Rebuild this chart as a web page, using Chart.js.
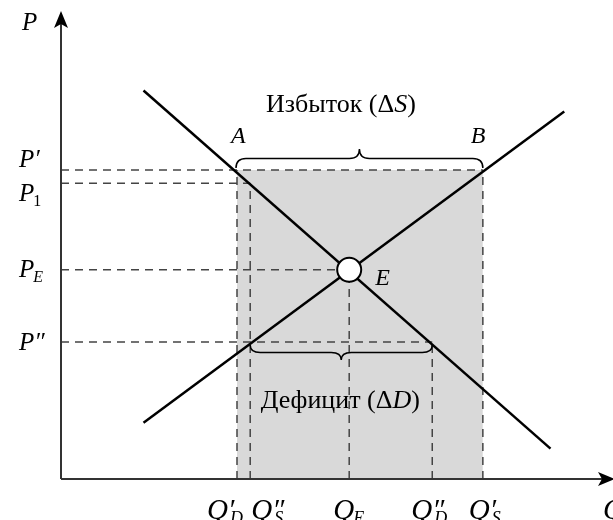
<!DOCTYPE html>
<html>
<head>
<meta charset="utf-8">
<script src="https://cdn.jsdelivr.net/npm/chart.js@4/dist/chart.umd.min.js"></script>
<style>
  body { margin: 0; background: #fff; }
  canvas { display: block; }
</style>
</head>
<body>
<canvas id="grafico" width="613" height="520"></canvas>
<script>
// quantities on the Q axis: Q'D, Q''S, QE, Q''D, Q'S
const qTicks = [32, 34.4, 52.4, 67.5, 76.7];
const qPrimes = ['′', '″', '', '″', '′'];
const qSubs = ['D', 'S', 'E', 'D', 'S'];
const qTops = [66, 63.2, 44.7, 29.3, 66];   // price where each vertical dashed line stops
// prices on the P axis: P', P1, PE, P''
const pTicks = [66, 63.2, 44.7, 29.3];
const pPrimes = ['′', '', '', '″'];
const pSubs = ['', '1', 'E', ''];
const pEnds = [76.7, 34.4, 52.4, 67.5];    // quantity where each horizontal dashed line stops
// demand and supply
const demandQ = [15, 89];
const demandP = [83, 6.5];
const supplyQ = [15, 91.5];
const supplyP = [12, 78.5];
const equilibrio = { q: 52.4, p: 44.7 };

const serif = "'Liberation Serif', 'DejaVu Serif', serif";

let datasets = [];
// grey area between Q'D and Q'S under P'
datasets.push({
  data: [{ x: qTicks[0], y: pTicks[0] }, { x: qTicks[4], y: pTicks[0] }],
  showLine: true, fill: 'origin', backgroundColor: '#d9d9d9',
  borderWidth: 0, pointRadius: 0, order: 10
});
pTicks.forEach((p, i) => {
  datasets.push({
    data: [{ x: 0, y: p }, { x: pEnds[i], y: p }],
    showLine: true, borderColor: '#444', borderWidth: 1.5, borderDash: [8, 6],
    pointRadius: 0, order: 5
  });
});
qTicks.forEach((q, i) => {
  datasets.push({
    data: [{ x: q, y: 0 }, { x: q, y: qTops[i] }],
    showLine: true, borderColor: '#444', borderWidth: 1.5, borderDash: [8, 6],
    pointRadius: 0, order: 5
  });
});
datasets.push({
  data: demandQ.map((q, i) => ({ x: q, y: demandP[i] })),
  showLine: true, borderColor: '#000', borderWidth: 2.5, pointRadius: 0, order: 2
});
datasets.push({
  data: supplyQ.map((q, i) => ({ x: q, y: supplyP[i] })),
  showLine: true, borderColor: '#000', borderWidth: 2.5, pointRadius: 0, order: 2
});
datasets.push({
  data: [{ x: equilibrio.q, y: equilibrio.p }],
  pointRadius: 12, pointBackgroundColor: '#fff', pointBorderColor: '#000',
  pointBorderWidth: 2, order: 0, clip: false
});

// draws letter + prime + subscript, left aligned
function etiqueta(ctx, x, y, main, prime, sub, size) {
  ctx.textAlign = 'left';
  ctx.textBaseline = 'alphabetic';
  ctx.font = 'italic ' + size + 'px ' + serif;
  ctx.fillText(main, x, y);
  let w = ctx.measureText(main).width;
  if (prime) {
    ctx.fillText(prime, x + w, y);
  }
  if (sub) {
    ctx.font = (/[0-9]/.test(sub) ? '' : 'italic ') + Math.round(size * 0.62) + 'px ' + serif;
    ctx.fillText(sub, x + w + (prime ? 2 : -1), y + 5);
  }
}

function llave(ctx, x1, x2, y0, h, r) {
  let ym = y0 + h / 2, yt = y0 + h, xm = (x1 + x2) / 2;
  ctx.beginPath();
  ctx.moveTo(x1, y0);
  ctx.quadraticCurveTo(x1, ym, x1 + r, ym);
  ctx.lineTo(xm - r, ym);
  ctx.quadraticCurveTo(xm, ym, xm, yt);
  ctx.quadraticCurveTo(xm, ym, xm + r, ym);
  ctx.lineTo(x2 - r, ym);
  ctx.quadraticCurveTo(x2, ym, x2, y0);
  ctx.stroke();
}

function textoMixto(ctx, partes, cx, y, size) {
  let total = 0;
  partes.forEach(p => {
    ctx.font = (p[1] ? 'italic ' : '') + size + 'px ' + serif;
    total += ctx.measureText(p[0]).width;
  });
  let x = cx - total / 2;
  ctx.textAlign = 'left';
  partes.forEach(p => {
    ctx.font = (p[1] ? 'italic ' : '') + size + 'px ' + serif;
    ctx.fillText(p[0], x, y);
    x += ctx.measureText(p[0]).width;
  });
}

const qOffsets = [-30, 1, -16, -21, -14];
const pOffsets = [-3, 18, 7, 8];

const dibujoExtra = {
  id: 'dibujoExtra',
  afterDatasetsDraw(chart) {
    const ctx = chart.ctx;
    const xs = chart.scales.x, ys = chart.scales.y;
    const x0 = xs.getPixelForValue(0), y0 = ys.getPixelForValue(0);
    ctx.save();
    // axes
    ctx.strokeStyle = '#333';
    ctx.lineWidth = 2;
    ctx.beginPath();
    ctx.moveTo(x0, y0);
    ctx.lineTo(x0, 22);
    ctx.moveTo(x0, y0);
    ctx.lineTo(604, y0);
    ctx.stroke();
    ctx.fillStyle = '#000';
    ctx.beginPath();
    ctx.moveTo(x0, 11); ctx.lineTo(x0 - 7, 28); ctx.lineTo(x0, 24); ctx.lineTo(x0 + 7, 28);
    ctx.closePath(); ctx.fill();
    ctx.beginPath();
    ctx.moveTo(615, y0); ctx.lineTo(598, y0 - 7); ctx.lineTo(602, y0); ctx.lineTo(598, y0 + 7);
    ctx.closePath(); ctx.fill();

    // braces
    ctx.strokeStyle = '#000';
    ctx.lineWidth = 1.5;
    llave(ctx, xs.getPixelForValue(qTicks[0]) - 1, xs.getPixelForValue(qTicks[4]),
      ys.getPixelForValue(pTicks[0]) - 2, -19, 10);
    llave(ctx, xs.getPixelForValue(qTicks[1]), xs.getPixelForValue(qTicks[3]),
      ys.getPixelForValue(pTicks[3]) + 3, 15, 10);

    // labels
    ctx.fillStyle = '#000';
    etiqueta(ctx, 22, 30, 'P', '', '', 25);
    pTicks.forEach((p, i) => {
      etiqueta(ctx, 19, ys.getPixelForValue(p) + pOffsets[i], 'P', pPrimes[i], pSubs[i], 25);
    });
    qTicks.forEach((q, i) => {
      etiqueta(ctx, xs.getPixelForValue(q) + qOffsets[i], 519, 'Q', qPrimes[i], qSubs[i], 29);
    });
    etiqueta(ctx, 603, 519, 'Q', '', '', 29);

    const topY = ys.getPixelForValue(pTicks[0]);
    etiqueta(ctx, xs.getPixelForValue(qTicks[0]) - 6, topY - 27, 'A', '', '', 24);
    etiqueta(ctx, xs.getPixelForValue(qTicks[4]) - 12, topY - 27, 'B', '', '', 24);
    etiqueta(ctx, xs.getPixelForValue(equilibrio.q) + 26, ys.getPixelForValue(equilibrio.p) + 15, 'E', '', '', 24);

    textoMixto(ctx, [['Избыток (Δ', false], ['S', true], [')', false]],
      xs.getPixelForValue((qTicks[0] + qTicks[4]) / 2) - 19, topY - 58, 26);
    textoMixto(ctx, [['Дефицит (Δ', false], ['D', true], [')', false]],
      xs.getPixelForValue((qTicks[1] + qTicks[3]) / 2) - 1, ys.getPixelForValue(pTicks[3]) + 66, 26);
    ctx.restore();
  }
};

new Chart(document.getElementById('grafico'), {
  type: 'scatter',
  data: { datasets: datasets },
  options: {
    responsive: false,
    devicePixelRatio: 1,
    animation: false,
    layout: { autoPadding: false, padding: { left: 61, right: 2, top: 11, bottom: 41 } },
    plugins: { legend: { display: false }, tooltip: { enabled: false } },
    scales: {
      x: { type: 'linear', min: 0, max: 100, display: false },
      y: { type: 'linear', min: 0, max: 100, display: false }
    }
  },
  plugins: [dibujoExtra]
});
</script>
</body>
</html>
